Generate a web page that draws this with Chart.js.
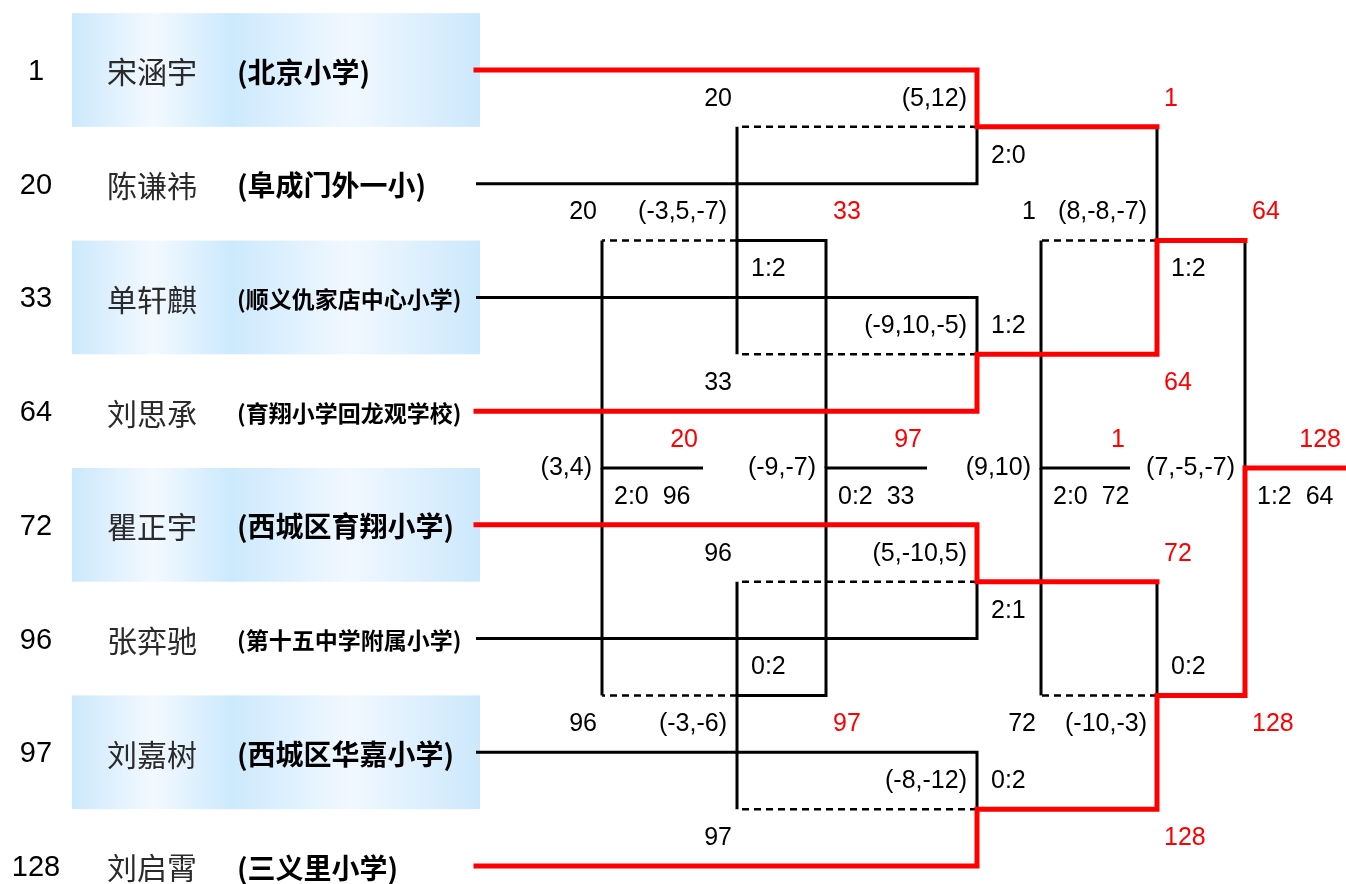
<!DOCTYPE html>
<html>
<head>
<meta charset="utf-8">
<script src="https://cdn.jsdelivr.net/npm/chart.js@4.4.1/dist/chart.umd.min.js"></script>
<style>
  html, body { margin: 0; padding: 0; background: #fff; overflow: hidden; }
</style>
</head>
<body>
<canvas id="bracket" width="1346" height="884"></canvas>
<script>
// players, in bracket order
const seeds = [1, 20, 33, 64, 72, 96, 97, 128];
const players = ['宋涵宇', '陈谦祎', '单轩麒', '刘思承', '瞿正宇', '张弈驰', '刘嘉树', '刘启霄'];
const schools = ['(北京小学)', '(阜成门外一小)', '(顺义仇家店中心小学)', '(育翔小学回龙观学校)',
                 '(西城区育翔小学)', '(第十五中学附属小学)', '(西城区华嘉小学)', '(三义里小学)'];

// matches: where each side comes from (p = player row, w = winner of match, l = loser of match)
const matchTop    = ['p0', 'p2', 'p4', 'p6', 'w0', 'w2', 'w4', 'l0', 'l2', 'w7', 'l7', 'l4'];
const matchBottom = ['p1', 'p3', 'p5', 'p7', 'w1', 'w3', 'w5', 'l1', 'l3', 'w8', 'l8', 'l5'];
// set score and game points, seen from the top side
const matchSets  = ['2:0', '1:2', '2:1', '0:2', '1:2', '0:2', '1:2', '1:2', '0:2', '0:2', '2:0', '2:0'];
const matchGames = ['(5,12)', '(-9,10,-5)', '(5,-10,5)', '(-8,-12)', '(8,-8,-7)', '(-10,-3)',
                    '(7,-5,-7)', '(-3,5,-7)', '(-3,-6)', '(-9,-7)', '(3,4)', '(9,10)'];

// layout (pixels)
const NAME_END = 476;
const matchCol = [977, 977, 977, 977, 1157, 1157, 1245, 737, 737, 826, 602, 1041];
const lineEnd = { 6: 1346, 9: 927, 10: 703, 11: 1130 };
const WINNERS_BRACKET = 7; // matches 0..6
const RED = '#ff0000';
const NUM_FONT = '"Liberation Sans", Arial, sans-serif';
const CJK_FONT = '"Noto Sans CJK SC", sans-serif';

// work out rows, winners and losers
const midRow = [], topRow = [], botRow = [], winner = [], loser = [], topWon = [];
function feedIndex(f) { return +f.slice(1); }
function feedRow(f) { return f[0] === 'p' ? feedIndex(f) : midRow[feedIndex(f)]; }
function feedX(f) { return f[0] === 'p' ? NAME_END : matchCol[feedIndex(f)]; }
function feedPlayer(f) {
  const i = feedIndex(f);
  return f[0] === 'p' ? seeds[i] : (f[0] === 'w' ? winner[i] : loser[i]);
}
matchSets.forEach((s, m) => {
  const [a, b] = s.split(':').map(Number);
  topRow[m] = feedRow(matchTop[m]);
  botRow[m] = feedRow(matchBottom[m]);
  midRow[m] = (topRow[m] + botRow[m]) / 2;
  const tp = feedPlayer(matchTop[m]), bp = feedPlayer(matchBottom[m]);
  topWon[m] = a > b;
  winner[m] = topWon[m] ? tp : bp;
  loser[m] = topWon[m] ? bp : tp;
});
function consumer(kind, m) {
  const f = kind + m;
  for (let k = 0; k < matchSets.length; k++) {
    if (matchTop[k] === f) return { k, top: true };
    if (matchBottom[k] === f) return { k, top: false };
  }
  return null;
}

// trace each player's line through the bracket
const paths = {};
function addSeg(seed, style, a, b) {
  const list = paths[seed] || (paths[seed] = []);
  const last = list[list.length - 1];
  if (last && last.style === style) {
    const p = last.pts[last.pts.length - 1];
    if (p[0] === a[0] && p[1] === a[1]) { last.pts.push(b); return; }
  }
  list.push({ style, pts: [a, b] });
}
matchSets.forEach((s, m) => {
  const c = matchCol[m];
  const wb = m < WINNERS_BRACKET;
  [[matchTop[m], topRow[m], topWon[m]], [matchBottom[m], botRow[m], !topWon[m]]].forEach(([f, r, won]) => {
    const who = feedPlayer(f);
    let inStyle;
    if (f[0] === 'p') inStyle = wb && won ? 'red' : 'black';
    else if (f[0] === 'w') inStyle = wb ? 'red' : 'black';
    else inStyle = 'dash';
    addSeg(who, inStyle, [feedX(f), r], [c, r]);
    addSeg(who, wb && won ? 'red' : 'black', [c, r], [c, midRow[m]]);
  });
  if (!consumer('w', m)) {
    addSeg(winner[m], wb ? 'red' : 'black', [c, midRow[m]], [lineEnd[m], midRow[m]]);
  }
});

const datasets = [];
Object.values(paths).forEach(list => list.forEach(seg => {
  const red = seg.style === 'red';
  datasets.push({
    data: seg.pts.map(([x, y]) => ({ x, y })),
    showLine: true,
    borderColor: red ? RED : '#000',
    borderWidth: red ? 5 : (seg.style === 'dash' ? 2.5 : 3),
    borderDash: seg.style === 'dash' ? [7, 5] : [],
    borderCapStyle: red ? 'square' : 'butt',
    borderJoinStyle: 'miter',
    pointRadius: 0,
    fill: false,
    tension: 0,
    order: red ? 0 : 1
  });
}));

// light blue boxes behind every other player
const boxPlugin = {
  id: 'boxes',
  beforeDatasetsDraw(chart) {
    const { ctx, scales: { x, y } } = chart;
    const x0 = 72, x1 = 480;
    const g = ctx.createLinearGradient(x0, 0, x1, 0);
    g.addColorStop(0, '#cce8fc');
    g.addColorStop(0.2, '#f3f9ff');
    g.addColorStop(0.39, '#cce9fd');
    g.addColorStop(0.68, '#f1f8ff');
    g.addColorStop(1, '#cce8fc');
    ctx.save();
    ctx.fillStyle = g;
    seeds.forEach((s, i) => {
      if (i % 2) return;
      const top = y.getPixelForValue(i - 0.5), bot = y.getPixelForValue(i + 0.5);
      ctx.fillRect(x0, top, x1 - x0, bot - top);
    });
    ctx.restore();
  }
};

const labelPlugin = {
  id: 'labels',
  afterDatasetsDraw(chart) {
    const { ctx, scales: { x, y } } = chart;
    ctx.save();
    ctx.textBaseline = 'middle';
    function text(str, px, py, align, color, font) {
      ctx.font = font || ('25px ' + NUM_FONT);
      ctx.fillStyle = color || '#000';
      ctx.textAlign = align;
      ctx.fillText(str, px, py);
    }
    // player column
    seeds.forEach((s, i) => {
      const py = y.getPixelForValue(i);
      text(String(s), 36, py + 2, 'center', '#000', '29px ' + NUM_FONT);
      text(players[i], 107, py + 2, 'left', '#2a2a2a', '30px ' + CJK_FONT);
      let size = 28;
      ctx.font = 'bold ' + size + 'px ' + CJK_FONT;
      while (ctx.measureText(schools[i]).width > 230 && size > 10) {
        size--;
        ctx.font = 'bold ' + size + 'px ' + CJK_FONT;
      }
      text(schools[i], 237, py + 2, 'left', '#000', ctx.font);
    });
    // match labels
    const UP = -28, DOWN = 29;
    matchSets.forEach((s, m) => {
      const c = matchCol[m];
      const ym = y.getPixelForValue(midRow[m]);
      const next = consumer('w', m);
      if (next) {
        text(s, c + 14, ym + (next.top ? DOWN : UP), 'left');
        text(String(winner[m]), matchCol[next.k] + 7, ym + (next.top ? UP : DOWN), 'left', RED);
      } else {
        text(matchGames[m], c - 10, ym, 'right');
        text(String(winner[m]), lineEnd[m] - 5, ym + UP, 'right', RED);
        text(s + '  ' + loser[m], c + 12, ym + DOWN, 'left');
      }
      const drop = consumer('l', m);
      if (drop) {
        const side = drop.top ? UP : DOWN;
        text(String(loser[m]), matchCol[drop.k] - 5, ym + side, 'right');
        text(matchGames[m], c - 10, ym + (m < 4 ? UP : side), 'right');
      }
    });
    ctx.restore();
  }
};

const ctx = document.getElementById('bracket').getContext('2d');
new Chart(ctx, {
  type: 'scatter',
  data: { datasets: datasets },
  options: {
    responsive: false,
    animation: false,
    devicePixelRatio: 1,
    events: [],
    layout: { padding: 0 },
    plugins: {
      legend: { display: false },
      tooltip: { enabled: false }
    },
    scales: {
      x: { type: 'linear', min: 0, max: 1346, display: false },
      y: { type: 'linear', min: -0.6156, max: 7.1583, reverse: true, display: false }
    }
  },
  plugins: [boxPlugin, labelPlugin]
});
</script>
</body>
</html>
